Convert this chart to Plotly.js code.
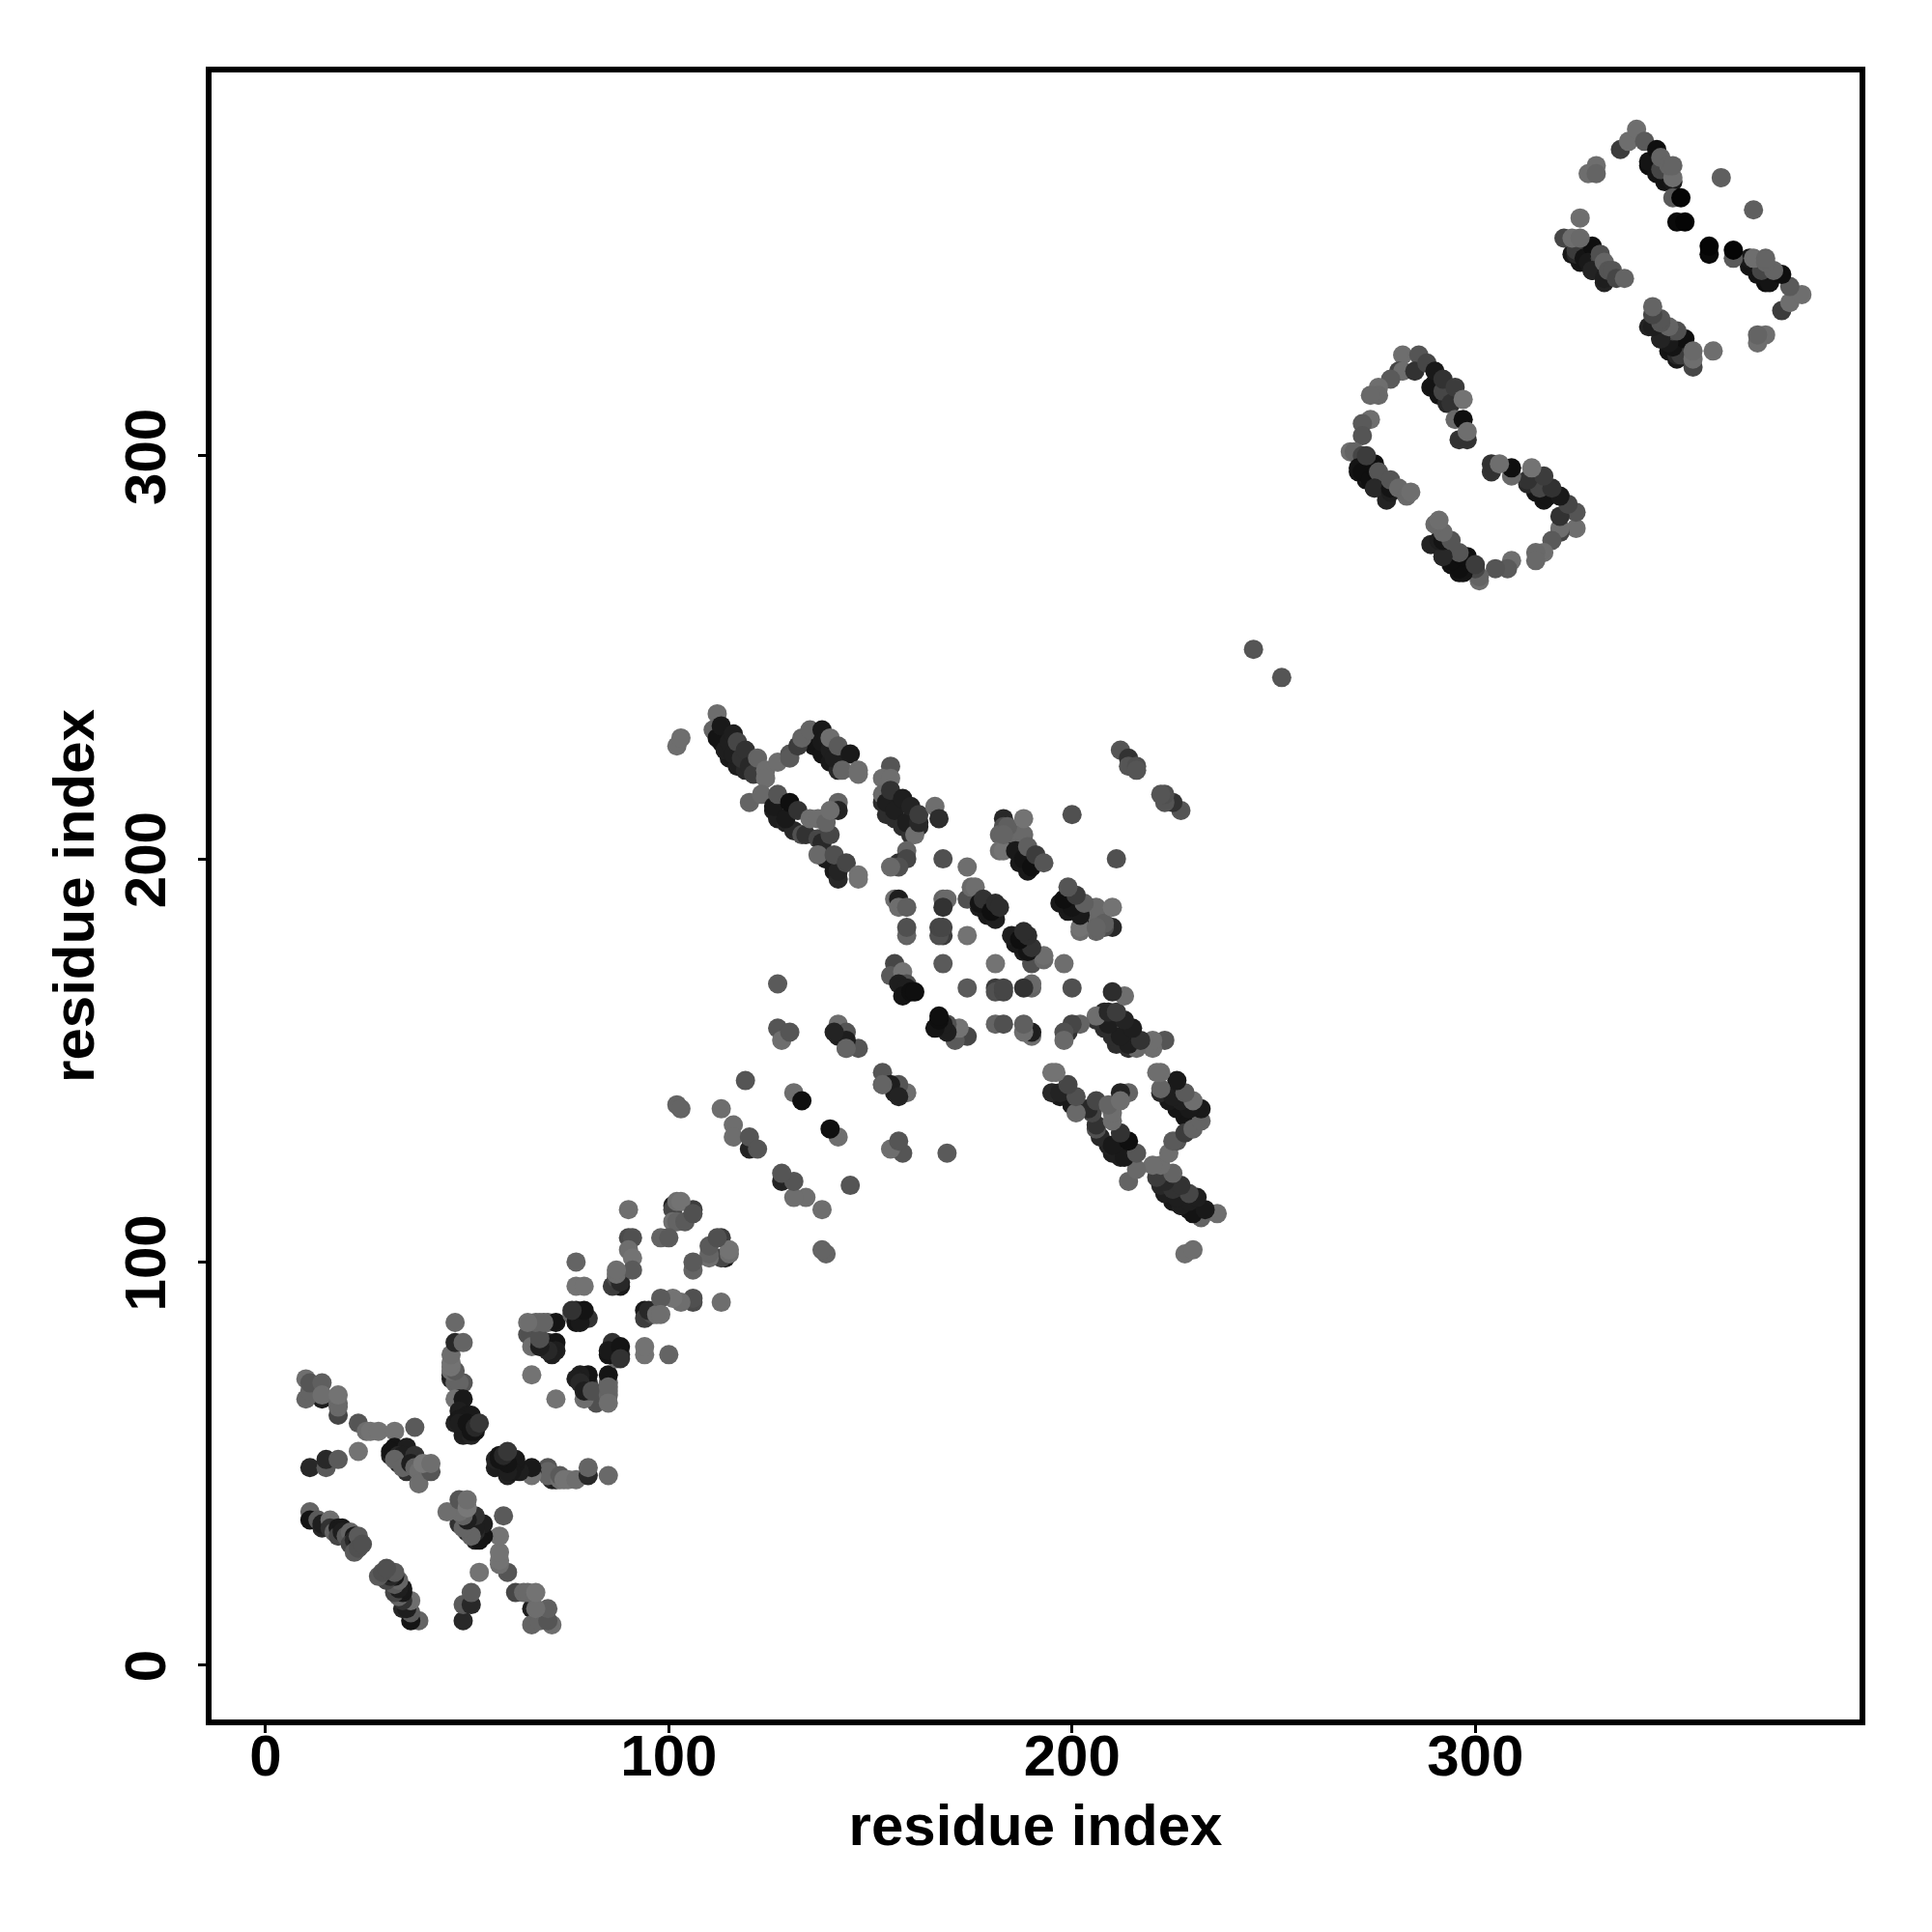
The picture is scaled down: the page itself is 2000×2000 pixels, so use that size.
<!DOCTYPE html>
<html><head><meta charset="utf-8">
<script src="https://cdn.plot.ly/plotly-3.0.1.min.js"></script>
<style>html,body{margin:0;padding:0;background:#fff}</style></head>
<body><div id="chart" style="width:2000px;height:2000px"></div>
<script>
// each entry: residue i, residue j, grey level of the contact
const spineA = [[112,231,20],[113,229,20],[114,227,20],[115,225,25],[117,223,30],[119,222,40],[126,212,30],[127,210,30],[129,209,35],[131,207,40],[138,202,30],[139,200,25],[141,197,25],[142,195,40],[136,228,20],[138,226,20],[140,224,25],[142,222,40],[153,214,45],[154,211,45],[156,210,45],[158,208,45],[160,206,50]];
const spineB = [[289,317,20],[291,315,20],[293,313,40],[271,296,20],[273,294,20],[275,292,25],[278,289,35],[343,372,15],[345,370,20],[347,368,20],[324,350,25],[326,348,20],[329,346,25],[332,343,35]];
const spineC = [[184,205,30],[187,199,25],[189,197,25],[177,188,30],[179,186,25],[181,185,30],[31,52,35],[33,50,35],[35,48,50],[47,60,35],[49,57,30],[51,57,35]];
const armA = [[11,38,100],[11,36,20],[13,36,90],[14,34,40],[14,35,30],[16,36,110],[16,34,50],[17,33,100],[18,34,25],[18,32,70],[19,34,25],[19,33,30],[20,32,90],[21,33,100],[22,32,25],[21,30,70],[22,31,40],[23,31,25],[23,32,90],[22,28,90],[23,29,80],[24,30,80]];
const armB = [[11,49,40],[15,49,90],[15,51,40],[18,51,90],[23,53,115]];
const armC = [[18,62,70],[14,66,30],[10,66,100],[11,68,100],[10,71,110],[11,70,85],[14,70,95],[14,67,110],[18,64,105],[18,65,105],[18,67,115]];
const armD = [[23,60,85],[25,58,110],[26,58,115],[28,58,115],[32,58,115],[37,59,90]];
const armE = [[32,54,20],[31,53,20],[35,54,30],[33,52,40],[34,52,30],[37,52,50],[32,51,100],[34,49,100],[36,50,30],[37,49,100],[38,48,110],[38,45,110],[41,48,85],[39,50,120],[41,50,110]];
const armF = [[46,71,40],[46,72,30],[47,70,100],[49,70,85],[48,70,100],[46,73,110],[47,73,90],[46,74,115],[46,75,115],[46,77,110],[47,80,40],[49,80,100],[47,85,105],[48,66,20],[47,66,115],[49,66,25],[48,63,30],[50,62,25],[51,62,25],[48,61,25],[48,60,30],[50,60,20],[52,58,20],[51,58,20],[52,59,40],[53,60,55]];
const ringA = [[65,82,80],[66,79,110],[68,80,85],[68,85,115],[70,85,100],[70,80,40],[72,80,20],[72,78,30],[71,77,30],[72,85,20],[66,72,115]];
const ringB = [[77,100,100],[77,94,115],[79,94,115],[76,87,100],[77,88,35],[79,87,30],[77,85,20],[80,86,50],[78,85,25],[79,88,20],[76,88,50]];
const ringC = [[70,78,40],[68,79,30],[68,81,80],[67,85,100],[69,85,100],[65,85,110]];
const armG = [[90,113,110],[90,106,75],[91,106,80],[90,103,110],[91,101,115],[88,94,25],[86,94,60],[87,96,75],[88,95,40],[87,97,110],[91,98,90],[87,98,110]];
const armH = [[101,114,30],[101,113,70],[102,115,110],[106,113,60],[101,110,110],[102,110,100],[103,115,115],[104,110,90],[106,112,80],[98,106,100],[100,106,90]];
const strandsA = [[127,169,90],[127,158,85],[128,155,110],[130,157,85],[142,156,30],[142,159,110],[144,157,85],[144,153,90],[147,153,85],[144,155,30],[141,157,35],[144,153,100]];
const strandsB = [[119,145,85],[131,142,110],[133,140,15],[102,139,100],[103,138,100],[113,138,110],[116,134,110],[116,131,110],[120,128,35],[120,131,85],[122,128,85],[102,228,110],[103,230,110]];
const sheetA = [[112,236,110],[111,232,100],[112,230,20],[113,233,25],[114,227,30],[115,229,30],[116,231,30],[116,226,30],[117,229,70],[118,225,50],[119,227,50],[120,223,40],[121,221,60],[122,225,100],[124,222,110],[124,220,110],[127,224,110]];
const sheetB = [[130,226,85],[130,225,90],[132,228,60],[133,230,100],[135,232,100],[138,232,25],[138,229,25],[140,227,30],[141,225,30],[140,230,110],[142,228,90],[145,226,25],[143,222,100],[147,222,110],[147,221,110]];
const sheetC = [[120,214,100],[123,216,105],[126,213,25],[129,210,25],[127,216,85],[130,214,15],[132,212,50],[133,206,80],[134,206,50],[135,210,110],[137,210,110],[137,205,70],[138,204,40],[140,206,70],[139,209,100],[142,214,100],[142,212,35],[140,212,110],[139,200,25],[137,201,105],[142,197,35],[141,201,80],[144,199,70],[147,196,115],[147,195,115]];
const sheetD = [[155,223,85],[153,220,110],[155,220,110],[153,216,105],[154,214,30],[156,212,30],[159,209,30],[155,217,50],[158,215,30],[160,213,35],[162,208,40],[161,206,110],[162,209,40],[162,211,60],[166,213,110],[167,210,45]];
const coreA = [[159,202,100],[157,199,50],[159,200,70],[157,198,80],[155,198,105],[168,200,80],[174,198,110],[156,190,110],[157,190,30],[157,188,110],[159,188,95],[159,181,100],[159,183,80],[168,190,100],[169,190,105],[168,188,50],[168,181,60],[167,181,80],[167,183,70],[168,183,70],[174,181,115],[174,190,80]];
const coreB = [[156,174,70],[155,171,90],[158,172,115],[159,169,80],[157,169,30],[159,168,30],[158,166,20],[160,167,15],[161,167,15],[168,174,90]];
const coreC = [[175,193,105],[176,193,110],[177,189,20],[178,190,50],[180,187,15],[181,189,45],[182,188,45]];
const coreD = [[183,210,40],[183,208,80],[182,206,100],[186,206,105],[188,206,105],[182,202,110],[184,208,95],[183,202,115],[183,206,100],[188,210,115],[186,202,25],[188,200,20],[190,198,15],[189,203,95],[191,201,60],[193,199,85],[200,211,80]];
const tipA = [[212,227,85],[214,225,50],[214,223,85],[216,223,80],[216,222,85],[245,252,85]];
const loopA = [[282,325,110],[286,325,85],[281,321,70],[282,321,110],[285,321,50],[288,323,70],[290,318,20],[290,321,25],[292,316,70],[292,319,50],[294,313,50],[295,317,60],[297,314,115],[279,319,90],[276,317,110],[276,315,105],[274,315,105],[274,309,110],[272,308,90],[272,305,85]];
const loopB = [[296,304,50],[298,304,50],[295,309,105],[297,309,15],[298,306,110]];
const loopC = [[269,301,110],[270,301,100],[272,300,70],[275,298,15],[271,297,20],[273,295,25],[272,296,15],[274,294,15],[275,297,15],[273,300,60],[276,296,85],[275,292,40],[279,291,30],[279,292,20],[279,294,85],[281,292,105],[283,290,105],[284,291,110]];
const loopD = [[336,376,60],[338,378,110],[340,381,110],[342,378,90],[343,373,20],[345,376,15],[346,371,70],[346,374,100],[349,368,25],[349,369,110],[348,372,100],[349,372,100],[330,372,110],[328,370,110],[330,370,100],[361,369,95]];
const loopE = [[349,364,90],[351,364,5],[350,358,10],[352,358,5],[326,359,110]];
const loopF = [[322,354,70],[325,350,40],[325,351,60],[324,354,110],[327,349,20],[329,352,15],[326,354,105],[328,348,25],[331,349,70],[331,350,80],[329,346,35],[332,348,100],[332,344,30],[333,346,85],[334,346,85],[335,344,70],[337,344,100]];

const tickValues = [0, 100, 200, 300];
const axisLabel = "residue index";

const groups = [spineA,spineB,spineC,armA,armB,armC,armD,armE,armF,ringA,ringB,ringC,armG,armH,strandsA,strandsB,sheetA,sheetB,sheetC,sheetD,coreA,coreB,coreC,coreD,tipA,loopA,loopB,loopC,loopD,loopE,loopF];
const contacts = groups.flat();
const xs = contacts.map(c => c[0]).concat(contacts.map(c => c[1]));
const ys = contacts.map(c => c[1]).concat(contacts.map(c => c[0]));
const greys = contacts.concat(contacts).map(c => `rgb(${c[2]},${c[2]},${c[2]})`);

const axisBase = {
  showgrid:false, zeroline:false, showline:true, mirror:true, linecolor:'#000', linewidth:6,
  ticks:'outside', ticklen:8, tickwidth:3, tickcolor:'#000',
  tickmode:'array', tickvals:tickValues, ticktext:tickValues.map(String),
  tickfont:{family:'"Liberation Sans", Arial, sans-serif', size:60, color:'#000', weight:700}
};
const titleFont = {family:'"Liberation Sans", Arial, sans-serif', size:60, color:'#000', weight:700};

Plotly.newPlot('chart',[{
  type:'scatter', mode:'markers', x:xs, y:ys, hoverinfo:'skip',
  marker:{size:20, color:greys, line:{width:0}}
}],{
  width:2000, height:2000, showlegend:false,
  paper_bgcolor:'#fff', plot_bgcolor:'#fff',
  margin:{l:219, r:75, t:75, b:219.5, pad:0},
  xaxis:Object.assign({}, axisBase, {range:[-13.4,395.3], ticklabelstandoff:-28, title:{text:axisLabel, font:titleFont, standoff:20}}),
  yaxis:Object.assign({}, axisBase, {range:[-13.5,395.1], tickangle:-90, ticklabelstandoff:10, ticklabelshift:10, title:{text:axisLabel, font:titleFont, standoff:2}})
},{displayModeBar:false, staticPlot:true});
</script></body></html>
